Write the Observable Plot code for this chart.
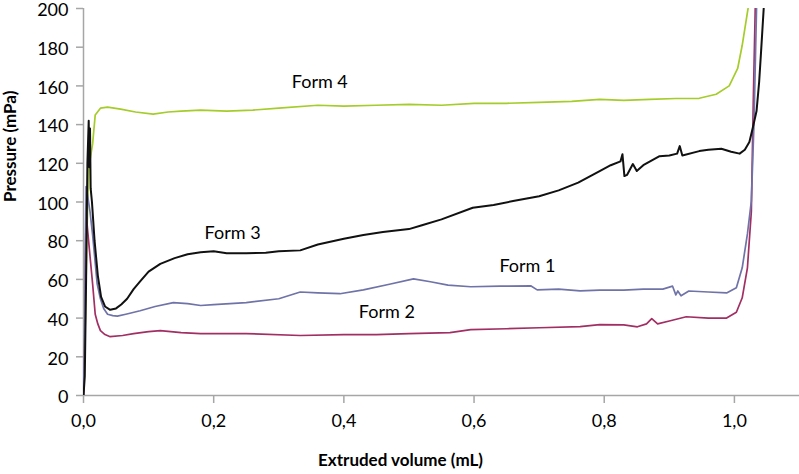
<!DOCTYPE html>
<html><head><meta charset="utf-8">
<script src="https://cdn.jsdelivr.net/npm/d3@7"></script>
<script src="https://cdn.jsdelivr.net/npm/@observablehq/plot@0.6"></script>
<style>body{margin:0;background:#fff;} #chart{width:799px;height:474px;}</style>
</head><body><div id="chart"></div>
<script>
// Series data: [extruded volume (mL), pressure (mPa)]
const form1 = [[0,0],[0.002,40],[0.003,80],[0.004,108],[0.006,104],[0.01,95],[0.014,83],[0.021,57.7],[0.026,50],[0.031,45],[0.037,42],[0.045,41.3],[0.052,41],[0.065,42],[0.087,43.8],[0.11,46],[0.138,48],[0.16,47.5],[0.18,46.5],[0.2,47],[0.25,48],[0.3,50],[0.333,53.5],[0.36,53],[0.394,52.6],[0.43,54.6],[0.47,57.5],[0.507,60.3],[0.533,58.8],[0.56,57],[0.595,56.2],[0.64,56.5],[0.687,56.7],[0.697,54.6],[0.73,55],[0.763,54.1],[0.793,54.5],[0.83,54.5],[0.86,55],[0.89,55],[0.905,56.5],[0.91,52],[0.913,54],[0.918,51.5],[0.93,54],[0.96,53.5],[0.988,53],[1.003,55.7],[1.012,66],[1.02,83.5],[1.026,100.5],[1.03,140],[1.034,200]];
const form2 = [[0,0],[0.002,30],[0.003,70],[0.004,95],[0.006,86.6],[0.01,72],[0.014,57.7],[0.018,42],[0.022,37],[0.026,33.5],[0.033,31.5],[0.041,30.4],[0.06,31],[0.077,32],[0.1,33],[0.118,33.5],[0.15,32.5],[0.18,32],[0.25,32],[0.333,31],[0.4,31.5],[0.45,31.5],[0.5,32],[0.563,32.5],[0.595,34],[0.65,34.5],[0.7,35],[0.763,35.6],[0.793,36.6],[0.83,36.5],[0.851,35.5],[0.865,37],[0.873,39.7],[0.882,37],[0.9,38.5],[0.926,40.7],[0.96,40],[0.988,40],[1.003,43],[1.012,50.5],[1.02,66],[1.026,95],[1.029,152],[1.032,200]];
const form3 = [[0,0],[0.002,10],[0.004,60],[0.006,120],[0.008,142],[0.009,118],[0.010,138],[0.011,107],[0.013,100],[0.017,80],[0.022,62],[0.027,51],[0.033,46],[0.041,44.3],[0.05,45],[0.058,47],[0.067,50],[0.077,55],[0.087,59],[0.1,64],[0.118,68],[0.14,71],[0.16,73],[0.18,74],[0.2,74.5],[0.22,73.5],[0.25,73.5],[0.28,73.8],[0.3,74.5],[0.333,75],[0.36,78],[0.4,81],[0.43,83],[0.46,84.5],[0.5,86],[0.52,88],[0.55,91],[0.598,97],[0.63,98.5],[0.66,100.5],[0.7,103],[0.73,106],[0.76,110],[0.793,116],[0.81,119],[0.825,121],[0.828,124.7],[0.831,113.4],[0.835,114],[0.844,119.6],[0.85,116],[0.86,119],[0.885,123.7],[0.9,124],[0.912,125],[0.916,128.9],[0.92,124],[0.946,126.3],[0.96,127],[0.98,127.5],[0.995,126],[1.008,125],[1.016,127],[1.023,131],[1.028,138],[1.034,147],[1.038,162],[1.041,178],[1.045,200]];
const form4 = [[0,12],[0.003,40],[0.005,80],[0.008,117.5],[0.014,130],[0.018,145],[0.026,148.5],[0.037,149],[0.057,148],[0.08,146.5],[0.107,145.4],[0.13,146.5],[0.15,147],[0.18,147.5],[0.22,147],[0.26,147.5],[0.3,148.5],[0.36,150],[0.4,149.5],[0.45,150],[0.5,150.5],[0.55,150],[0.6,151],[0.65,151],[0.7,151.5],[0.75,152],[0.793,153],[0.83,152.5],[0.87,153],[0.91,153.5],[0.946,153.6],[0.972,155.7],[0.992,160],[1.005,169],[1.012,181],[1.02,198],[1.021,200]];

const labelText = ["Form 1","Form 2","Form 3","Form 4"];
const labelX = [0.682, 0.466, 0.229, 0.363];
const labelY = [67.0, 42.8, 84.0, 161.9];

const xTicks = [0, 0.2, 0.4, 0.6, 0.8, 1.0];
const yTicks = [0, 20, 40, 60, 80, 100, 120, 140, 160, 180, 200];
const xTitle = "Extruded volume (mL)";
const yTitle = "Pressure (mPa)";

const axisGray = "#a6a6a6";
const labels = labelText.map((t, i) => ({t, x: labelX[i], y: labelY[i]}));

const chart = Plot.plot({
  width: 799, height: 474,
  marginLeft: 83, marginRight: 0, marginTop: 8, marginBottom: 79,
  style: {fontFamily: "Lato, 'Open Sans', sans-serif", fontSize: "18px", color: "#000", background: "#fff", overflow: "visible"},
  x: {domain: [0, 1.1], label: null},
  y: {domain: [0, 200], label: null},
  marks: [
    Plot.ruleX([0], {stroke: axisGray, strokeWidth: 1.5}),
    Plot.ruleY([0], {stroke: axisGray, strokeWidth: 1.5}),
    Plot.axisX({ticks: xTicks, tickSize: 8, tickPadding: 11, stroke: axisGray, fill: "#000", strokeWidth: 1.5,
      tickFormat: d => d.toFixed(1).replace(".", ","), label: null, fontSize: 18}),
    // tick marks of the y axis
    Plot.axisY({ticks: yTicks, tickSize: 7, stroke: axisGray, strokeWidth: 1.5, tickFormat: () => "", label: null}),
    // tick labels of the y axis, sitting slightly below their ticks as in the reference
    Plot.axisY({ticks: yTicks, tickSize: 0, tickPadding: 15, fill: "#000", label: null, fontSize: 18, dy: 2}),
    Plot.line(form4, {x: d => d[0], y: d => d[1], stroke: "#a5cc2a", strokeWidth: 1.7, clip: true}),
    Plot.line(form2, {x: d => d[0], y: d => d[1], stroke: "#a12f63", strokeWidth: 1.7, clip: true}),
    Plot.line(form1, {x: d => d[0], y: d => d[1], stroke: "#7073a8", strokeWidth: 1.7, clip: true}),
    Plot.line(form3, {x: d => d[0], y: d => d[1], stroke: "#111111", strokeWidth: 2, clip: true}),
    Plot.text(labels, {x: "x", y: "y", text: "t", fill: "#000", fontSize: 18}),
    Plot.text([xTitle], {frameAnchor: "bottom", dy: 70, dx: -41, fill: "#000", fontSize: 17, fontWeight: "bold"}),
    Plot.text([yTitle], {frameAnchor: "left", dx: -73, rotate: -90, fill: "#000", fontSize: 17, fontWeight: "bold"})
  ]
});
document.getElementById("chart").appendChild(chart);
</script>
</body></html>
